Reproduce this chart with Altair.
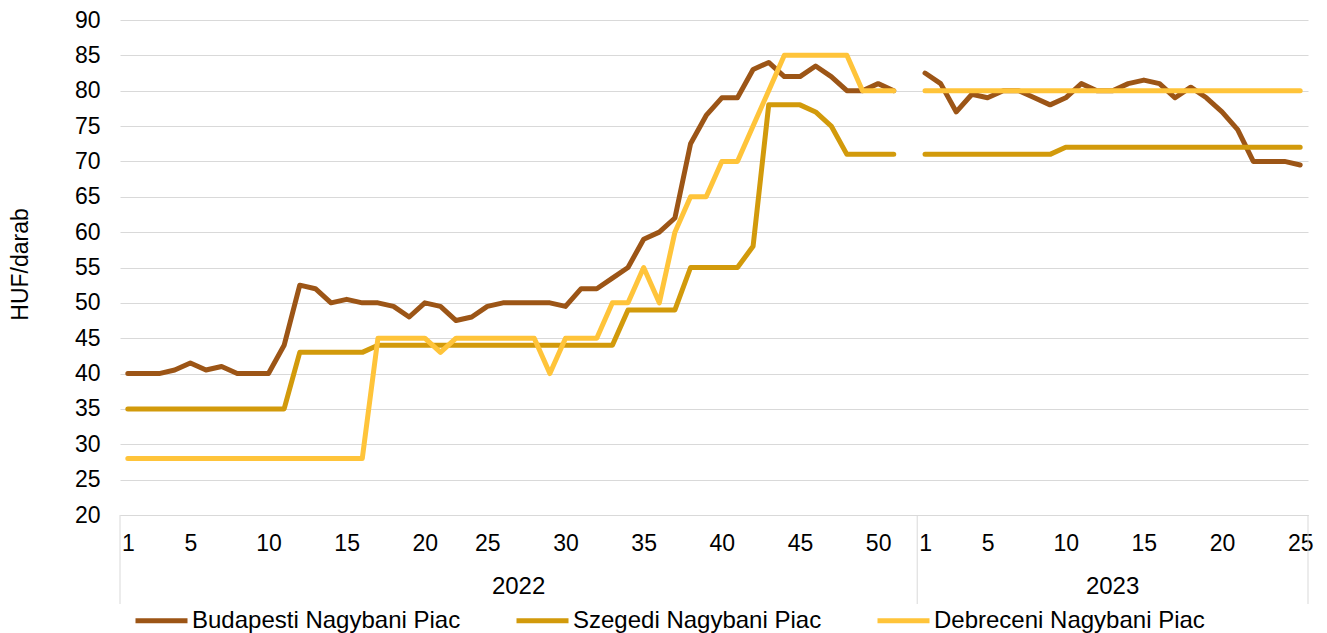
import json
import altair as alt
import pandas as pd

# ---- data -----------------------------------------------------------------
years = ["2022", "2023"]
weeks_2022 = list(range(1, 23)) + list(range(24, 53))   # 51 categories
weeks_2023 = list(range(1, 26))                          # 25 categories

names = ["Budapesti Nagybani Piac", "Szegedi Nagybani Piac", "Debreceni Nagybani Piac"]
colors = ["#9C5516", "#D29A0B", "#FFC43A"]

budapest_2022 = [40, 40, 40, 40.5, 41.5, 40.5, 41, 40, 40, 40,
                 44, 52.5, 52, 50, 50.5, 50, 50, 49.5, 48, 50,
                 49.5, 47.5, 48, 49.5, 50, 50, 50, 50, 49.5, 52,
                 52, 53.5, 55, 59, 60, 62, 72.5, 76.5, 79, 79,
                 83, 84, 82, 82, 83.5, 82, 80, 80, 81, 80, None]
szeged_2022 = ([35] * 11 + [43] * 5 + [44] * 16 + [49] * 4 + [55] * 4 + [58]
               + [78] * 3 + [77, 75] + [71] * 4 + [None])
debrecen_2022 = ([28] * 16 + [45] * 4 + [43] + [45] * 6 + [40] + [45] * 3
                 + [50] * 2 + [55, 50, 60] + [65] * 2 + [70] * 2 + [75, 80]
                 + [85] * 5 + [80] * 3 + [None])

budapest_2023 = [82.5, 81, 77, 79.5, 79, 80, 80, 79, 78, 79, 81, 80, 80, 81, 81.5,
                 81, 79, 80.5, 79, 77, 74.5, 70, 70, 70, 69.5]
szeged_2023 = [71] * 9 + [72] * 16
debrecen_2023 = [80] * 25

label_weeks = [1, 5, 10, 15, 20, 25, 30, 35, 40, 45, 50]

# ---- tables built from the arrays ------------------------------------------
cats = []
k = 0
for year, weeks in zip(years, [weeks_2022, weeks_2023]):
    for w in weeks:
        k += 1
        cats.append((k, year, w))
n_cat = k

series_vals = {
    names[0]: budapest_2022 + budapest_2023,
    names[1]: szeged_2022 + szeged_2023,
    names[2]: debrecen_2022 + debrecen_2023,
}
rows = []
for name in names:
    for (kk, year, w), v in zip(cats, series_vals[name]):
        if v is not None:
            rows.append({"k": kk, "year": year, "week": w, "series": name, "value": v})
df = pd.DataFrame(rows)

labels = [""] * (n_cat + 1)
tick_vals = []
for kk, year, w in cats:
    if w in label_weeks:
        labels[kk] = str(w)
        tick_vals.append(kk)
label_expr = json.dumps(labels) + "[datum.value]"

bounds = [0.5, len(weeks_2022) + 0.5, n_cat + 0.5]
year_df = pd.DataFrame({"year": years,
                        "pos": [(bounds[0] + bounds[1]) / 2, (bounds[1] + bounds[2]) / 2]})
sep_df = pd.DataFrame({"pos": bounds})

FONT = "Liberation Sans"
FS = 23
FS_BIG = 24
GRID = "#D9D9D9"

xscale = alt.Scale(domain=[0.5, n_cat + 0.5], nice=False, zero=False)
yscale = alt.Scale(domain=[20, 90], nice=False, zero=False)

x_axis = alt.Axis(
    values=tick_vals, labelExpr=label_expr, grid=False, ticks=False,
    domain=True, domainColor=GRID, domainWidth=1, labelFont=FONT,
    labelFontSize=FS, labelColor="#000000", labelPadding=17,
    labelOverlap=False, labelFlush=False, labelBound=False, title=None,
)
y_axis = alt.Axis(
    values=list(range(20, 95, 5)), grid=True, gridColor=GRID, gridWidth=1,
    domain=False, ticks=False, labelFont=FONT, labelFontSize=FS,
    labelColor="#000000", labelPadding=20, title="HUF/darab",
    titleFont=FONT, titleFontSize=FS, titleFontWeight="normal",
    titleColor="#000000", titleX=-100, titleY=244, titleAngle=270,
    titleAlign="center", titleBaseline="middle",
)
legend = alt.Legend(
    title=None, orient="none", direction="horizontal", columns=3,
    gridAlign="each",
    legendX=13, legendY=572, padding=0,
    symbolType="stroke", symbolSize=2704, symbolStrokeWidth=5,
    labelFont=FONT, labelFontSize=FS_BIG, labelColor="#000000", labelLimit=500,
    labelOffset=2, columnPadding=45,
)

layers = []
for name in names:
    layers.append(
        alt.Chart(df).transform_filter(alt.datum.series == name)
        .mark_line(strokeWidth=5, strokeCap="round", strokeJoin="round")
        .encode(
            x=alt.X("k:Q", scale=xscale, axis=x_axis),
            y=alt.Y("value:Q", scale=yscale, axis=y_axis),
            color=alt.Color("series:N", scale=alt.Scale(domain=names, range=colors),
                            legend=legend),
            detail="year:N",
        )
    )

seps = alt.Chart(sep_df).mark_rule(color=GRID, strokeWidth=1).encode(
    x=alt.X("pos:Q", scale=xscale, axis=x_axis),
    y=alt.value(495), y2=alt.value(584),
)
year_text = alt.Chart(year_df).mark_text(
    font=FONT, fontSize=FS_BIG, color="#000000", baseline="middle", align="center"
).encode(
    x=alt.X("pos:Q", scale=xscale, axis=x_axis),
    y=alt.value(567),
    text="year:N",
)

chart = alt.layer(*layers, seps, year_text).properties(
    width=1188, height=495,
    autosize=alt.AutoSizeParams(type="none"),
    padding={"left": 112, "top": 12, "right": 11, "bottom": 130},
    background="white",
).configure(font=FONT).configure_view(stroke=None)

chart.save("out.html", embed_options={"renderer": "svg", "actions": False})
